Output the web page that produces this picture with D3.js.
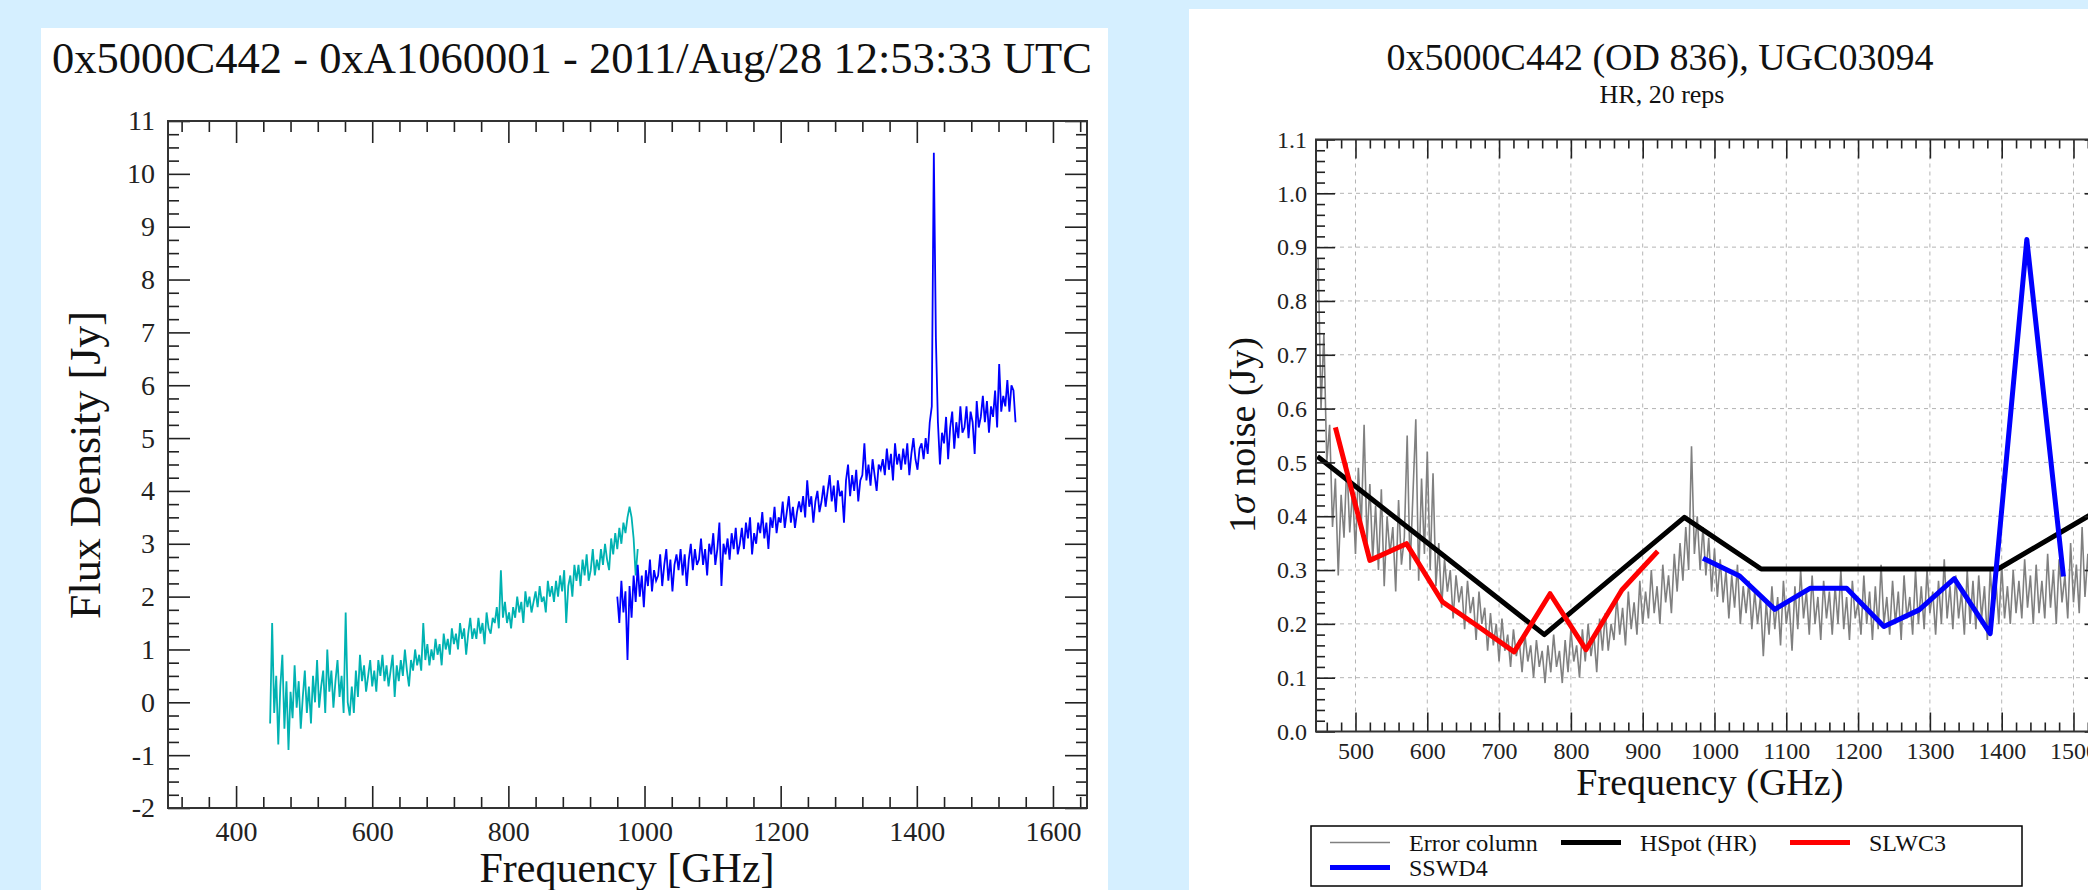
<!DOCTYPE html>
<html>
<head>
<meta charset="utf-8">
<script src="https://cdn.jsdelivr.net/npm/d3@7"></script>
<style>
  body { margin: 0; background: #d5efff; }
  svg { display: block; font-family: "Liberation Serif", "Times New Roman", serif; }
</style>
</head>
<body>
<svg id="fig" width="2088" height="890"></svg>
<script>
// ---- left panel: spectrum (Jy) ----
const slwFreqStart = 450, slwFreqStep = 3;
const slwFlux = [
  -0.4, 1.5, -0.2, 0.5, -0.8, 0.3, 0.9, -0.5, 0.4, -0.9,
  0.2, -0.3, 0.7, -0.1, 0.4, -0.5, 0.1, 0.6, -0.2, 0.3,
  -0.4, 0.5, 0.0, 0.8, -0.1, 0.3, 0.6, -0.2, 1.0, 0.2,
  0.6, -0.1, 0.4, 0.8, 0.1, 0.5, -0.2, 1.7, 0.0, -0.25,
  0.3, -0.2, 0.6, 0.1, 0.9, 0.4, 0.7, 0.2, 0.5, 0.8,
  0.3, 0.6, 0.2, 0.8, 0.5, 0.9, 0.4, 0.7, 0.3, 0.6,
  0.9, 0.1, 0.7, 0.4, 0.8, 0.5, 1.0, 0.6, 0.3, 0.8,
  0.6, 1.0, 0.7, 0.9, 0.6, 1.5, 0.8, 1.1, 0.7, 1.0,
  0.8, 1.2, 0.9, 1.1, 0.7, 1.3, 1.0, 1.2, 0.9, 1.4,
  1.1, 1.3, 1.0, 1.5, 1.2, 1.4, 0.9, 1.3, 1.6, 1.2,
  1.4, 1.2, 1.6, 1.3, 1.5, 1.1, 1.7, 1.4, 1.3, 1.6,
  1.5, 1.8, 1.4, 2.5, 1.6, 1.9, 1.5, 1.7, 1.4, 1.8,
  1.6, 2.0, 1.7, 1.9, 1.5, 2.1, 1.8, 2.0, 1.7, 1.9,
  2.1, 1.8, 2.2, 1.9, 2.0, 1.7, 2.3, 2.0, 2.2, 1.9,
  2.3, 2.0, 2.4, 2.1, 2.5, 1.5, 2.2, 2.4, 2.0, 2.6,
  2.3, 2.6, 2.2, 2.7, 2.4, 2.8, 2.3, 2.5, 2.9, 2.4,
  2.7, 2.5, 2.9, 2.6, 3.0, 2.7, 2.5, 3.1, 2.8, 3.2,
  2.9, 3.3, 3.0, 3.4, 3.2, 3.5, 3.7, 3.5, 3.1, 2.4,
  2.9
];
const sswFreqStart = 960, sswFreqStep = 3;
const sswFlux = [
  2.0, 1.5, 2.3, 1.7, 2.1, 0.8, 2.2, 1.6, 2.4, 1.9,
  2.6, 2.0, 2.4, 1.8, 2.5, 2.2, 2.7, 2.1, 2.5, 2.3,
  2.4, 2.8, 2.2, 2.6, 2.9, 2.3, 2.7, 2.1, 2.6, 2.8,
  2.5, 2.9, 2.4, 2.8, 2.2, 2.7, 3.0, 2.5, 2.9, 2.6,
  2.7, 3.1, 2.6, 2.9, 2.4, 3.0, 2.8, 3.2, 2.6, 2.9,
  3.4, 2.2, 3.0, 2.8, 3.1, 2.7, 3.2, 2.9, 3.3, 2.8,
  3.0, 3.3, 2.9, 3.4, 3.1, 3.5, 2.8, 3.2, 3.0, 3.4,
  3.2, 3.6, 3.1, 3.4, 2.9, 3.5, 3.3, 3.7, 3.2, 3.5,
  3.4, 3.8, 3.3, 3.6, 3.9, 3.4, 3.7, 3.3, 3.6, 3.8,
  3.6, 3.9, 3.5, 4.2, 3.7, 3.9, 3.4, 3.8, 4.0, 3.6,
  3.8, 4.1, 3.7, 4.0, 4.3, 3.8, 4.1, 3.6, 4.2, 3.9,
  4.0, 3.4, 4.2, 4.5, 3.9, 4.3, 4.0, 4.4, 3.8, 4.2,
  4.3, 4.9, 4.2, 4.5, 4.1, 4.6, 4.3, 4.0, 4.5, 4.4,
  4.6, 4.3, 4.8, 4.4, 4.7, 4.2, 4.9, 4.5, 4.7, 4.4,
  4.8, 4.5, 4.9, 4.3, 4.7, 5.0, 4.6, 4.4, 4.8, 4.9,
  4.6, 5.0, 4.7, 5.3, 5.6, 10.4, 6.9, 5.3, 4.5, 5.1,
  4.9, 5.4, 4.6, 5.2, 5.5, 4.8, 5.3, 5.0, 5.6, 5.1,
  5.2, 5.6, 5.0, 5.5, 5.3, 4.7, 5.7, 5.2, 5.4, 5.8,
  5.3, 5.7, 5.1, 5.6, 5.4, 5.9, 5.2, 6.4, 5.5, 5.8,
  5.6, 6.1, 5.5, 6.0, 5.9, 5.3
];
const fluxXMajor = [400, 600, 800, 1000, 1200, 1400, 1600];
const fluxYMajor = [-2, -1, 0, 1, 2, 3, 4, 5, 6, 7, 8, 9, 10, 11];

// ---- right panel: noise (Jy) ----
const errFreqStart = 448, errFreqStep = 4;
const errNoise = [
  0.88, 0.6, 0.74, 0.5, 0.57, 0.38, 0.47, 0.29, 0.44, 0.36,
  0.5, 0.37, 0.45, 0.33, 0.49, 0.38, 0.57, 0.35, 0.46, 0.32,
  0.42, 0.3, 0.45, 0.27, 0.4, 0.33, 0.38, 0.26, 0.43, 0.31,
  0.36, 0.55, 0.3, 0.44, 0.58, 0.28, 0.47, 0.33, 0.52, 0.3,
  0.48, 0.27, 0.35, 0.23, 0.32, 0.26, 0.3, 0.21, 0.29, 0.24,
  0.27, 0.19, 0.28, 0.22, 0.25, 0.17, 0.26, 0.2, 0.23, 0.15,
  0.22, 0.16, 0.2, 0.13, 0.21, 0.15, 0.18, 0.12, 0.19, 0.14,
  0.17, 0.11, 0.18, 0.13, 0.16, 0.1, 0.17, 0.12, 0.15, 0.09,
  0.16, 0.11, 0.18, 0.12, 0.15, 0.09, 0.17, 0.11, 0.19, 0.13,
  0.16, 0.1, 0.19, 0.13, 0.2, 0.14, 0.18, 0.11, 0.21, 0.15,
  0.22, 0.15, 0.2, 0.17, 0.25, 0.18, 0.23, 0.16, 0.26, 0.19,
  0.24, 0.18, 0.28, 0.2, 0.26, 0.21, 0.3, 0.22, 0.27, 0.2,
  0.31, 0.24, 0.29, 0.22, 0.33, 0.26, 0.35, 0.28, 0.38, 0.3,
  0.53, 0.33, 0.4, 0.3, 0.38, 0.29, 0.36, 0.26, 0.34, 0.25,
  0.32, 0.24, 0.3, 0.21, 0.29, 0.23, 0.31, 0.2, 0.27, 0.22,
  0.28, 0.19, 0.26, 0.2, 0.25, 0.14, 0.24, 0.18, 0.27, 0.19,
  0.25, 0.16, 0.28, 0.2, 0.24, 0.15, 0.27, 0.19, 0.3, 0.21,
  0.26, 0.18, 0.29, 0.2, 0.25, 0.17, 0.28, 0.21, 0.26, 0.18,
  0.27, 0.2, 0.3, 0.19, 0.25, 0.17, 0.28, 0.21, 0.24, 0.18,
  0.29, 0.2, 0.26, 0.17, 0.27, 0.19, 0.31, 0.2, 0.25, 0.18,
  0.28, 0.2, 0.26, 0.17, 0.29, 0.21, 0.25, 0.18, 0.3, 0.2,
  0.27, 0.19, 0.3, 0.22, 0.26, 0.18, 0.28, 0.2, 0.32, 0.21,
  0.27, 0.19, 0.29, 0.21, 0.26, 0.18, 0.3, 0.2, 0.28, 0.19,
  0.29, 0.21, 0.27, 0.17, 0.3, 0.22, 0.28, 0.2, 0.31, 0.21,
  0.27, 0.2, 0.3, 0.22, 0.28, 0.21, 0.32, 0.23, 0.29, 0.2,
  0.31, 0.22, 0.28, 0.21, 0.33, 0.23, 0.3, 0.2, 0.32, 0.24,
  0.29, 0.21, 0.35, 0.24, 0.31, 0.22, 0.38, 0.25, 0.33, 0.23,
  0.3, 0.22, 0.34, 0.25
];
const hspotFreq = [447, 763, 958, 1065, 1395, 1542];
const hspotNoise = [0.511, 0.18, 0.398, 0.302, 0.302, 0.417];
const slwc3Freq = [472, 520, 571, 621, 671, 721, 771, 821, 871, 921];
const slwc3Noise = [0.565, 0.318, 0.349, 0.241, 0.195, 0.148, 0.256, 0.152, 0.263, 0.335];
const sswd4Freq = [984, 1035, 1084, 1133, 1184, 1236, 1285, 1334, 1384, 1435, 1486];
const sswd4Noise = [0.322, 0.289, 0.227, 0.266, 0.266, 0.195, 0.226, 0.284, 0.182, 0.914, 0.288];
const noiseXMajor = [500, 600, 700, 800, 900, 1000, 1100, 1200, 1300, 1400, 1500];
const noiseYMajor = [0, 0.1, 0.2, 0.3, 0.4, 0.5, 0.6, 0.7, 0.8, 0.9, 1.0, 1.1];
const legendItems = [
  { label: "Error column", color: "#808080", width: 1.5 },
  { label: "HSpot (HR)", color: "#000000", width: 5 },
  { label: "SLWC3", color: "#ff0000", width: 5 },
  { label: "SSWD4", color: "#0000ff", width: 5 }
];

const svg = d3.select("#fig");

// white panels
svg.append("rect").attr("x", 41).attr("y", 28).attr("width", 1067).attr("height", 862).attr("fill", "#fff");
svg.append("rect").attr("x", 1189).attr("y", 9).attr("width", 899).attr("height", 881).attr("fill", "#fff");

// inward ticks on all four sides of a frame
function frameTicks(g, x, y, w, h, xMaj, xMin, yMaj, yMin, lenMaj, lenMin) {
  const sides = [
    [d3.axisTop, x, `translate(0,${h})`, xMaj, xMin],
    [d3.axisBottom, x, "translate(0,0)", xMaj, xMin],
    [d3.axisRight, y, "translate(0,0)", yMaj, yMin],
    [d3.axisLeft, y, `translate(${w},0)`, yMaj, yMin]
  ];
  sides.forEach(([axis, s, tr, maj, min]) => {
    [[maj, lenMaj], [min, lenMin]].forEach(([vals, len]) => {
      const a = g.append("g").attr("transform", tr)
        .call(axis(s).tickValues(vals).tickSize(len).tickFormat(""));
      a.select(".domain").remove();
      a.selectAll("line").attr("stroke", "#222").attr("stroke-width", 1.6);
    });
  });
  g.append("rect").attr("width", w).attr("height", h)
    .attr("fill", "none").attr("stroke", "#333").attr("stroke-width", 2);
}

// ================= LEFT =================
{
  const w = 919, h = 687;
  const g = svg.append("g").attr("transform", "translate(168,121)");
  const x = d3.scaleLinear().domain([300, 1650]).range([0, w]);
  const y = d3.scaleLinear().domain([-2, 11]).range([h, 0]);

  const xMin = d3.range(320, 1650, 40).filter(v => v % 200 !== 0);
  const yMin = d3.range(-8, 45).map(v => v / 4).filter(v => v % 1 !== 0);

  g.append("defs").append("clipPath").attr("id", "clipL")
    .append("rect").attr("width", w).attr("height", h);
  const plot = g.append("g").attr("clip-path", "url(#clipL)");

  const slwLine = d3.line().x((d, i) => x(slwFreqStart + i * slwFreqStep)).y(d => y(d));
  const sswLine = d3.line().x((d, i) => x(sswFreqStart + i * sswFreqStep)).y(d => y(d));
  plot.append("path").datum(slwFlux).attr("d", slwLine)
    .attr("fill", "none").attr("stroke", "#00b2b2").attr("stroke-width", 1.8);
  plot.append("path").datum(sswFlux).attr("d", sswLine)
    .attr("fill", "none").attr("stroke", "#0000ff").attr("stroke-width", 1.8);

  frameTicks(g, x, y, w, h, fluxXMajor, xMin, fluxYMajor, yMin, 22, 11);

  const xl = g.append("g").attr("transform", `translate(0,${h})`)
    .call(d3.axisBottom(x).tickValues(fluxXMajor).tickSize(0).tickPadding(13).tickFormat(d3.format("d")));
  xl.select(".domain").remove();
  xl.selectAll("text").attr("font-family", "Liberation Serif").attr("font-size", 28).attr("fill", "#222");

  const yl = g.append("g")
    .call(d3.axisLeft(y).tickValues(fluxYMajor).tickSize(0).tickPadding(13)
      .tickFormat(d => d < 0 ? "-" + (-d) : String(d)));
  yl.select(".domain").remove();
  yl.selectAll("text").attr("font-family", "Liberation Serif").attr("font-size", 28).attr("fill", "#222");

  svg.append("text").attr("x", 627).attr("y", 882).attr("text-anchor", "middle")
    .attr("font-size", 42).attr("fill", "#111").text("Frequency [GHz]");
  svg.append("text").attr("transform", "translate(100,465) rotate(-90)").attr("text-anchor", "middle")
    .attr("font-size", 44).attr("fill", "#111").text("Flux Density [Jy]");
  svg.append("text").attr("x", 52).attr("y", 73)
    .attr("font-size", 44).attr("fill", "#111")
    .attr("textLength", 1040).attr("lengthAdjust", "spacingAndGlyphs")
    .text("0x5000C442 - 0xA1060001 - 2011/Aug/28 12:53:33 UTC");
}

// ================= RIGHT =================
{
  const x0 = 1316, y0 = 139.5;
  const x = d3.scaleLinear().domain([445, 1542]).range([0, 1097 * 0.718]);
  const w = x(1542), h = 592;
  const y = d3.scaleLinear().domain([0, 1.1]).range([h, 0]);
  const g = svg.append("g").attr("transform", `translate(${x0},${y0})`);

  const xMin = d3.range(460, 1542, 20).filter(v => v % 100 !== 0);
  const yMin = d3.range(0, 111, 2).filter(v => v % 10 !== 0).map(v => v / 100);

  // dashed grid
  g.append("g").selectAll("line").data(noiseXMajor).join("line")
    .attr("x1", d => x(d)).attr("x2", d => x(d)).attr("y1", 0).attr("y2", h)
    .attr("stroke", "#b4b4b4").attr("stroke-width", 1).attr("stroke-dasharray", "4,4");
  g.append("g").selectAll("line").data(noiseYMajor.slice(1, -1)).join("line")
    .attr("x1", 0).attr("x2", w).attr("y1", d => y(d)).attr("y2", d => y(d))
    .attr("stroke", "#b4b4b4").attr("stroke-width", 1).attr("stroke-dasharray", "4,4");

  g.append("defs").append("clipPath").attr("id", "clipR")
    .append("rect").attr("width", w).attr("height", h);
  const plot = g.append("g").attr("clip-path", "url(#clipR)");

  const errLine = d3.line().x((d, i) => x(errFreqStart + i * errFreqStep)).y(d => y(d));
  plot.append("path").datum(errNoise).attr("d", errLine)
    .attr("fill", "none").attr("stroke", "#808080").attr("stroke-width", 1.6);

  const seg = d3.line().x(d => x(d[0])).y(d => y(d[1]));
  [[hspotFreq, hspotNoise, "#000000"], [slwc3Freq, slwc3Noise, "#ff0000"], [sswd4Freq, sswd4Noise, "#0000ff"]]
    .forEach(([f, v, c]) => {
      plot.append("path").datum(d3.zip(f, v)).attr("d", seg)
        .attr("fill", "none").attr("stroke", c).attr("stroke-width", 5)
        .attr("stroke-linejoin", "round");
    });

  frameTicks(g, x, y, w, h, noiseXMajor, xMin, noiseYMajor, yMin, 19, 9);

  const xl = g.append("g").attr("transform", `translate(0,${h})`)
    .call(d3.axisBottom(x).tickValues(noiseXMajor).tickSize(0).tickPadding(10).tickFormat(d3.format("d")));
  xl.select(".domain").remove();
  xl.selectAll("text").attr("font-family", "Liberation Serif").attr("font-size", 24).attr("fill", "#222");

  const yl = g.append("g")
    .call(d3.axisLeft(y).tickValues(noiseYMajor).tickSize(0).tickPadding(9).tickFormat(d3.format(".1f")));
  yl.select(".domain").remove();
  yl.selectAll("text").attr("font-family", "Liberation Serif").attr("font-size", 24).attr("fill", "#222");

  svg.append("text").attr("x", x0 + w / 2).attr("y", 795).attr("text-anchor", "middle")
    .attr("font-size", 38).attr("fill", "#111").text("Frequency (GHz)");
  const yt = svg.append("text").attr("transform", "translate(1255,435) rotate(-90)")
    .attr("text-anchor", "middle").attr("font-size", 38).attr("fill", "#111");
  yt.append("tspan").text("1");
  yt.append("tspan").attr("font-style", "italic").text("σ");
  yt.append("tspan").text(" noise (Jy)");

  svg.append("text").attr("x", 1660).attr("y", 70).attr("text-anchor", "middle")
    .attr("font-size", 38).attr("fill", "#111").text("0x5000C442 (OD 836), UGC03094");
  svg.append("text").attr("x", 1662).attr("y", 103).attr("text-anchor", "middle")
    .attr("font-size", 26).attr("fill", "#111").text("HR, 20 reps");

  // legend
  const lg = svg.append("g");
  lg.append("rect").attr("x", 1311).attr("y", 826).attr("width", 711).attr("height", 60)
    .attr("fill", "#fff").attr("stroke", "#000").attr("stroke-width", 1.5);
  const slots = [[1330, 842.5], [1561, 842.5], [1790, 842.5], [1330, 867.5]];
  legendItems.forEach((d, i) => {
    const [lx, ly] = slots[i];
    lg.append("line").attr("x1", lx).attr("x2", lx + 60).attr("y1", ly).attr("y2", ly)
      .attr("stroke", d.color).attr("stroke-width", d.width);
    lg.append("text").attr("x", lx + 79).attr("y", ly).attr("dy", "0.35em")
      .attr("font-size", 24).attr("fill", "#111").text(d.label);
  });
}
</script>
</body>
</html>
